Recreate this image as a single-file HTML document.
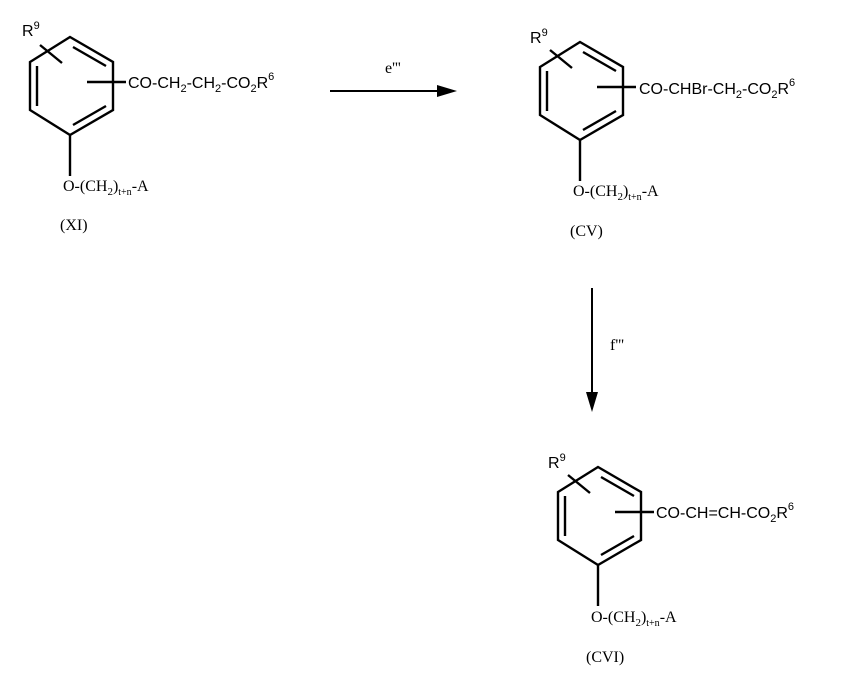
<!DOCTYPE html>
<html><head><style>
body{margin:0;background:#fff;width:858px;height:693px;overflow:hidden}
svg text{font-family:"Liberation Sans",sans-serif;font-size:16px;fill:#000}
.s{font-family:"Liberation Serif",serif;font-size:16px}
</style></head><body>
<svg width="858" height="693" viewBox="0 0 858 693">
<defs>
<g id="m" stroke="#000" stroke-width="2.4" fill="none">
<polygon points="70,37 113,62 113,110 70,135 30,110 30,62"/>
<line x1="73" y1="47" x2="106" y2="66"/>
<line x1="106" y1="106" x2="73" y2="125"/>
<line x1="37" y1="66" x2="37" y2="106"/>
<line x1="40" y1="45" x2="62" y2="63"/>
<line x1="87" y1="82" x2="126" y2="82"/>
<line x1="70" y1="135" x2="70" y2="176"/>
</g>
</defs>
<use href="#m"/>
<text x="22" y="36">R<tspan font-size="11" dy="-7">9</tspan></text>
<text x="128" y="88">CO-CH<tspan font-size="11" dy="4">2</tspan><tspan dy="-4">-CH</tspan><tspan font-size="11" dy="4">2</tspan><tspan dy="-4">-CO</tspan><tspan font-size="11" dy="4">2</tspan><tspan dy="-4">R</tspan><tspan font-size="11" dy="-8">6</tspan></text>
<text x="63" y="191" class="s">O-(CH<tspan font-size="11" dy="4">2</tspan><tspan dy="-4">)</tspan><tspan font-size="10" dy="4">t+n</tspan><tspan dy="-4">-A</tspan></text>
<text x="60" y="230" class="s">(XI)</text>

<use href="#m" transform="translate(510,5)"/>
<text x="530" y="43">R<tspan font-size="11" dy="-7">9</tspan></text>
<text x="639" y="94">CO-CHBr-CH<tspan font-size="11" dy="4">2</tspan><tspan dy="-4">-CO</tspan><tspan font-size="11" dy="4">2</tspan><tspan dy="-4">R</tspan><tspan font-size="11" dy="-8">6</tspan></text>
<text x="573" y="196" class="s">O-(CH<tspan font-size="11" dy="4">2</tspan><tspan dy="-4">)</tspan><tspan font-size="10" dy="4">t+n</tspan><tspan dy="-4">-A</tspan></text>
<text x="570" y="236" class="s">(CV)</text>

<use href="#m" transform="translate(528,430)"/>
<text x="548" y="468">R<tspan font-size="11" dy="-7">9</tspan></text>
<text x="656" y="518">CO-CH=CH-CO<tspan font-size="11" dy="4">2</tspan><tspan dy="-4">R</tspan><tspan font-size="11" dy="-8">6</tspan></text>
<text x="591" y="622" class="s">O-(CH<tspan font-size="11" dy="4">2</tspan><tspan dy="-4">)</tspan><tspan font-size="10" dy="4">t+n</tspan><tspan dy="-4">-A</tspan></text>
<text x="586" y="662" class="s">(CVI)</text>

<line x1="330" y1="91" x2="440" y2="91" stroke="#000" stroke-width="2"/>
<polygon points="457,91 437,85 437,97" fill="#000"/>
<text x="385" y="73" class="s">e'''</text>
<line x1="592" y1="288" x2="592" y2="395" stroke="#000" stroke-width="2"/>
<polygon points="592,412 586,392 598,392" fill="#000"/>
<text x="610" y="350" class="s">f'''</text>
</svg>
</body></html>
